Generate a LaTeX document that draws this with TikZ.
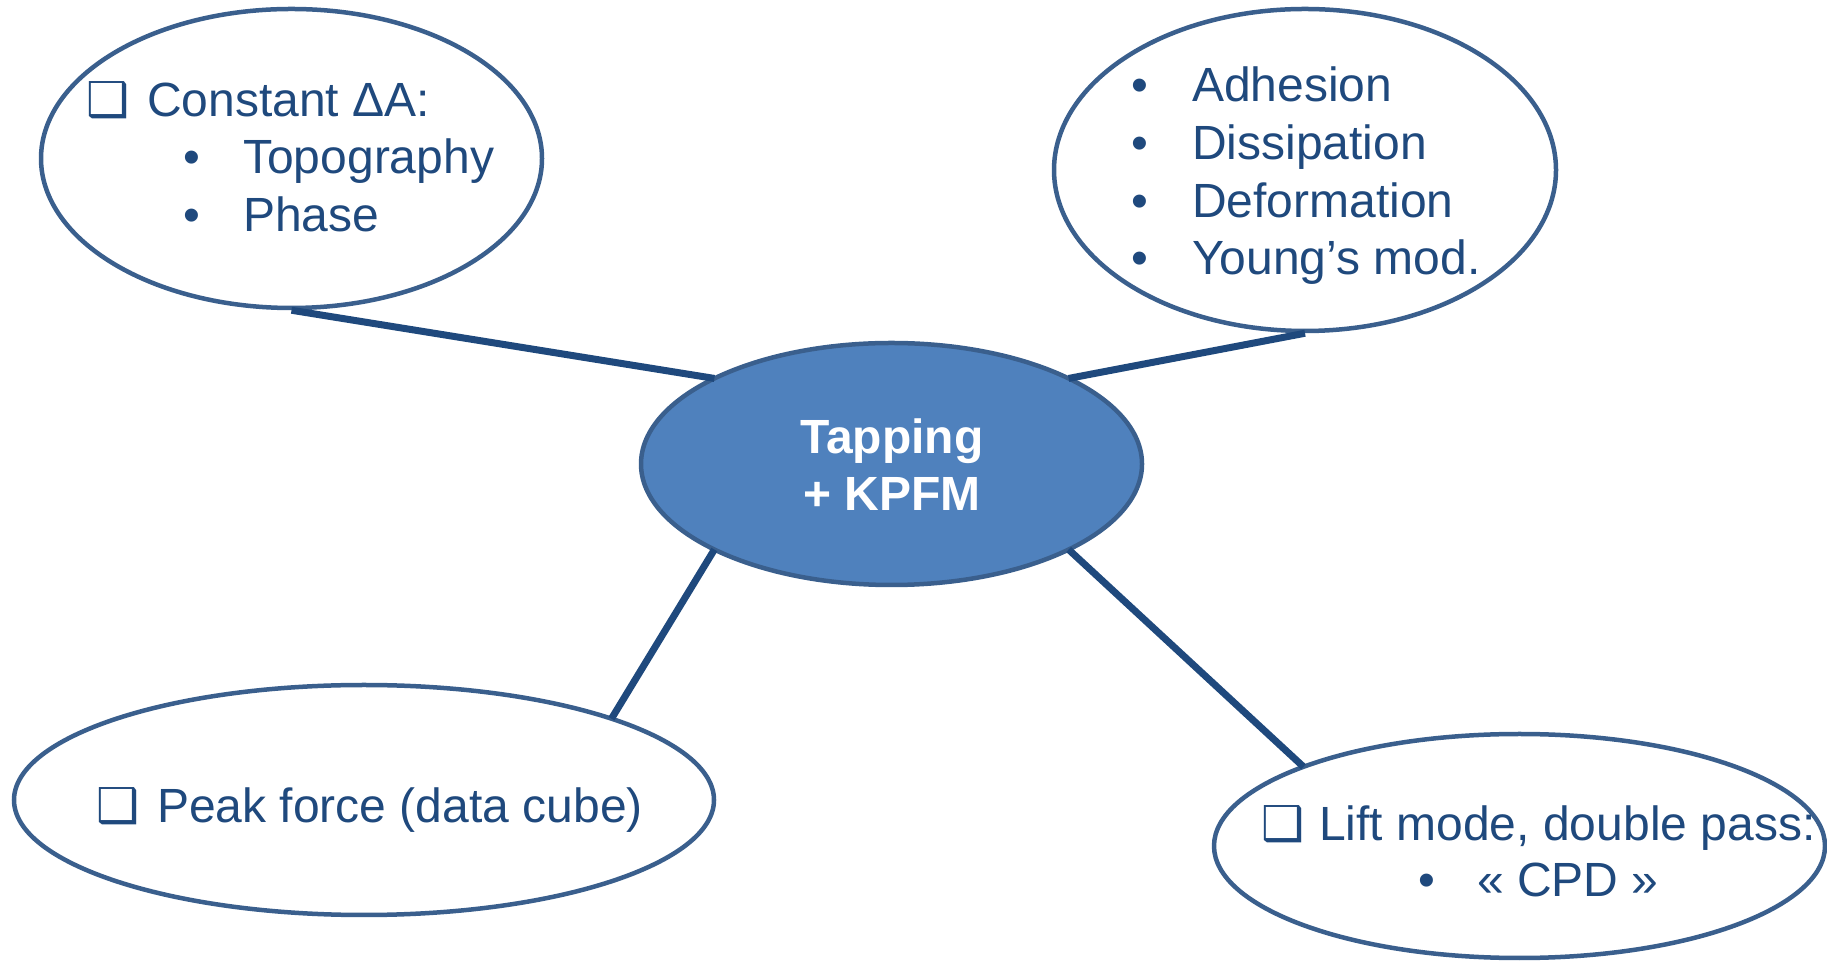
\documentclass[tikz,border=0pt]{standalone}
\usepackage{fontspec}
\setmainfont{Liberation Sans}
\newfontfamily\symfont{DejaVu Sans}
\usetikzlibrary{shapes.geometric,calc}
\definecolor{txtblue}{HTML}{1F497D}
\definecolor{edgeblue}{HTML}{3A5F8D}
\definecolor{lineblue}{HTML}{1F497D}
\definecolor{fillblue}{HTML}{4F81BD}
\tikzset{
  bubble/.style={ellipse, draw=edgeblue, line width=4.5pt, fill=white, inner sep=0pt},
  hub/.style={ellipse, draw=edgeblue, line width=4.5pt, fill=fillblue, inner sep=0pt},
  link/.style={draw=lineblue, line width=7pt},
  txt/.style={anchor=base west, inner sep=0pt, text=txtblue, font=\fontsize{48}{58}\selectfont},
  box/.style={anchor=base west, inner sep=0pt, text=txtblue, font=\symfont\bfseries\fontsize{48}{58}\selectfont},
  hubtxt/.style={anchor=base, inner sep=0pt, text=white, font=\bfseries\fontsize{48}{58}\selectfont}
}
\begin{document}
\begin{tikzpicture}[x=1pt,y=1pt]
\useasboundingbox (0,0) rectangle (1827,963);
% ellipses
\node[bubble, minimum width=501pt, minimum height=299pt] (TL) at (291.5,804.5) {};
\node[bubble, minimum width=502pt, minimum height=322pt] (TR) at (1305,793) {};
\node[hub, minimum width=501pt, minimum height=242pt] (C) at (891.5,499) {};
\node[bubble, minimum width=700pt, minimum height=230pt] (BL) at (364,163) {};
\node[bubble, minimum width=611pt, minimum height=224pt] (BR) at (1519.5,117) {};
% connectors
\coordinate (c135) at ($(C.center)+(135:250.5 and 121)$);
\coordinate (c45) at ($(C.center)+(45:250.5 and 121)$);
\coordinate (c225) at ($(C.center)+(225:250.5 and 121)$);
\coordinate (c315) at ($(C.center)+(315:250.5 and 121)$);
\coordinate (bl45) at ($(BL.center)+(45:350 and 115)$);
\coordinate (br135) at ($(BR.center)+(135:305.5 and 112)$);
\draw[link] (TL.south) -- (c135);
\draw[link] (TR.south) -- (c45);
\draw[link] (c225) -- (bl45);
\draw[link] (c315) -- (br135);
% top-left text
\node[box] (tlbox) at (86,846) {❑};
\node[txt] (tl1) at (147,846) {Constant ΔA:};
\node[txt] (tlb1) at (183,789) {•};
\node[txt] (tl2) at (243,789) {Topography};
\node[txt] (tlb2) at (183,731) {•};
\node[txt] (tl3) at (243,731) {Phase};
% top-right text
\node[txt] (trb1) at (1131,861) {•};
\node[txt] (tr1) at (1192,861) {Adhesion};
\node[txt] (trb2) at (1131,803) {•};
\node[txt] (tr2) at (1192,803) {Dissipation};
\node[txt] (trb3) at (1131,745) {•};
\node[txt] (tr3) at (1192,745) {Deformation};
\node[txt] (trb4) at (1131,688) {•};
\node[txt] (tr4) at (1192,688) {Young’s mod.};
% center text
\node[hubtxt] (h1) at (892,509) {Tapping};
\node[hubtxt] (h2) at (892,452) {+ KPFM};
% bottom-left text
\node[box] (blbox) at (96,140) {❑};
\node[txt] (bl1) at (157,140) {Peak force (data cube)};
% bottom-right text
\node[box] (brbox) at (1261,122) {❑};
\node[txt] (br1) at (1319,122) {Lift mode, double pass:};
\node[txt] (brb1) at (1418,66) {•};
\node[txt] (br2) at (1477,66) {« CPD »};
\end{tikzpicture}
\end{document}
